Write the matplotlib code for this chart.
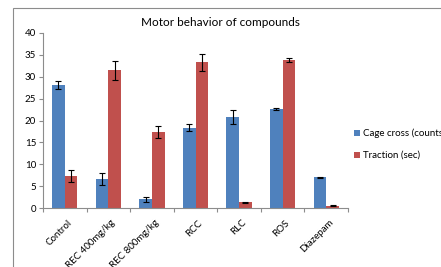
import matplotlib

matplotlib.use("Agg")
import matplotlib.pyplot as plt
import numpy as np
from matplotlib.patches import Rectangle

categories = ["Control", "REC 400mg/kg", "REC 800mg/kg", "RCC", "RLC", "ROS", "Diazepam"]
cage_cross = [28.1, 6.6, 2.0, 18.4, 20.8, 22.6, 7.0]
cage_err = [1.0, 1.3, 0.6, 0.8, 1.7, 0.3, 0.15]
traction = [7.3, 31.5, 17.3, 33.3, 1.3, 33.8, 0.5]
traction_err = [1.3, 2.2, 1.4, 1.9, 0.15, 0.4, 0.1]
y_ticks = [0, 5, 10, 15, 20, 25, 30, 35, 40]

plt.rcParams["font.family"] = ["Lato", "DejaVu Sans"]

W, H = 441, 267
fig = plt.figure(figsize=(W / 100, H / 100), dpi=100)
fig.patch.set_facecolor("white")

# chart frame (runs off the right/bottom edge like the original crop)
fig.patches.append(
    Rectangle((13 / W, -0.1), 1.0, 1 - 8 / H + 0.1, transform=fig.transFigure,
              fill=False, edgecolor="#8c8c8c", linewidth=0.8)
)

ax = fig.add_axes([43 / W, 1 - 208 / H, (348 - 43) / W, (208 - 33) / H])

x = np.arange(len(categories))
bw = 0.29
err_kw = dict(ecolor="black", elinewidth=0.8, capsize=2, capthick=0.8)
ax.bar(x - bw / 2, cage_cross, bw, yerr=cage_err, color="#4F81BD",
       label="Cage cross (counts)", error_kw=err_kw)
ax.bar(x + bw / 2, traction, bw, yerr=traction_err, color="#C0504D",
       label="Traction (sec)", error_kw=err_kw)

ax.set_xlim(-0.5, len(categories) - 0.5)
ax.set_ylim(0, 40)
ax.set_yticks(y_ticks)
ax.tick_params(axis="y", labelsize=7, length=3, color="#8c8c8c", pad=2)

# ticks between categories, labels at centers
ax.set_xticks(np.arange(len(categories) + 1) - 0.5)
ax.set_xticklabels([])
ax.tick_params(axis="x", length=3, color="#8c8c8c")
for i, name in enumerate(categories):
    ax.text(i + 0.05, -2.3, name, rotation=45, ha="right", va="top",
            rotation_mode="anchor", fontsize=7)

for side in ("top", "right"):
    ax.spines[side].set_visible(False)
for side in ("left", "bottom"):
    ax.spines[side].set_color("#8c8c8c")
    ax.spines[side].set_linewidth(0.8)

fig.text(220 / W, 1 - 22 / H, "Motor behavior of compounds", ha="center",
         va="center", fontsize=8.5)

fig.legend(loc="upper left", bbox_to_anchor=(350 / W, 1 - 125 / H),
           frameon=False, fontsize=7, handlelength=0.6, handleheight=0.6,
           handletextpad=0.3, labelspacing=1.3, borderaxespad=0)

fig.savefig("out.png", dpi=100)
